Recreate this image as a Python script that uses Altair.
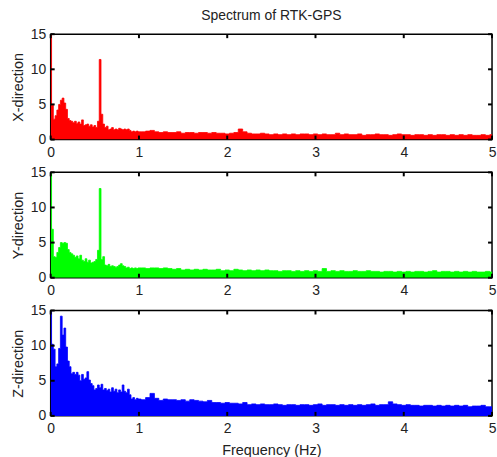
import altair as alt
import pandas as pd

# frequency grid (Hz): fine 0-1, coarser 1.05-5
freq_low = [round(0.02 * i, 2) for i in range(51)]
freq_high = [round(1.0 + 0.05 * i, 2) for i in range(1, 81)]
freqs = freq_low + freq_high

x_low = [15.0, 4.9, 2.9, 3.4, 4.2, 5.0, 5.6, 5.9, 5.2, 4.3,
         3.0, 2.7, 2.6, 2.4, 2.6, 2.3, 2.5, 2.2, 2.8, 2.0,
         2.1, 2.2, 1.9, 2.1, 1.8, 2.0, 1.7, 2.6, 11.4, 3.6,
         2.2, 1.7, 1.9, 1.4, 1.5, 1.7, 1.4, 1.5, 1.4, 1.6,
         1.5, 1.4, 1.5, 1.4, 1.5, 1.3, 1.1, 1.2, 1.1, 1.2, 1.1]
x_high = [1.1, 1.2, 1.3, 1.1, 1.0, 1.1, 1.0, 1.0, 1.1, 0.9,
          1.0, 1.0, 0.9, 1.0, 1.0, 0.9, 1.0, 0.9, 0.9, 0.8,
          0.9, 1.0, 1.5, 1.1, 0.9, 0.8, 0.8, 0.9, 0.8, 0.7,
          0.8, 0.7, 0.8, 0.7, 0.8, 0.7, 0.8, 0.8, 0.7, 0.8,
          0.7, 0.8, 0.7, 0.7, 0.9, 0.7, 0.8, 0.7, 0.7, 0.8,
          0.6, 0.7, 0.7, 0.8, 0.7, 0.7, 0.6, 0.7, 0.8, 0.7,
          0.7, 0.6, 0.7, 0.7, 0.6, 0.7, 0.6, 0.7, 0.7, 0.6,
          0.7, 0.6, 0.7, 0.6, 0.7, 0.6, 0.6, 0.7, 0.6, 0.7]

y_low = [15.0, 6.9, 3.0, 2.9, 3.6, 4.3, 5.0, 4.9, 5.0, 4.9,
         4.0, 3.6, 3.4, 3.2, 2.9, 3.1, 2.7, 3.2, 2.5, 2.3,
         2.7, 2.2, 2.5, 2.1, 2.2, 2.3, 2.6, 3.9, 12.7, 2.6,
         3.0, 1.8, 1.7, 1.9, 1.6, 1.7, 1.6, 1.5, 1.6, 1.8,
         2.0, 1.7, 1.6, 1.4, 1.5, 1.3, 1.4, 1.3, 1.4, 1.3, 1.4]
y_high = [1.4, 1.3, 1.4, 1.4, 1.3, 1.4, 1.3, 1.2, 1.3, 1.1,
          1.2, 1.1, 1.2, 1.1, 1.2, 1.1, 1.1, 1.2, 1.0, 1.1,
          1.0, 1.2, 1.1, 1.0, 1.1, 1.0, 1.1, 1.0, 1.1, 1.0,
          1.0, 0.9, 1.0, 1.0, 0.9, 1.0, 0.9, 1.0, 0.9, 1.0,
          0.9, 1.3, 0.9, 1.0, 0.9, 1.0, 0.9, 0.9, 1.0, 0.9,
          0.9, 1.0, 0.9, 0.9, 0.8, 0.9, 0.9, 0.8, 0.9, 0.8,
          0.9, 0.8, 0.9, 0.9, 0.8, 0.9, 1.0, 0.8, 0.9, 0.9,
          0.8, 0.9, 0.8, 0.9, 0.8, 0.9, 0.8, 0.8, 0.9, 0.8]

z_low = [15.0, 10.2, 9.5, 7.0, 7.4, 9.6, 14.2, 11.5, 12.5, 9.8,
         7.8, 7.0, 6.0, 6.2, 5.9, 6.2, 5.8, 5.0, 5.9, 5.2,
         5.4, 6.3, 5.1, 4.6, 4.3, 3.7, 3.9, 4.4, 4.0, 4.5,
         3.7, 3.9, 3.6, 3.8, 3.4, 4.0, 3.5, 3.8, 3.3, 3.7,
         3.4, 4.4, 3.5, 3.3, 3.8, 3.0, 2.4, 2.6, 2.3, 2.5, 2.4]
z_high = [2.3, 2.6, 3.2, 2.5, 2.2, 2.4, 2.3, 2.3, 2.2, 2.3,
          2.1, 2.3, 2.2, 2.1, 2.0, 2.2, 1.9, 1.9, 1.8, 1.9,
          1.8, 1.8, 1.7, 1.9, 1.6, 1.7, 1.6, 1.7, 1.6, 1.6,
          1.7, 1.6, 1.5, 1.6, 1.6, 1.5, 1.6, 1.6, 1.5, 1.6,
          1.7, 1.5, 1.6, 1.6, 1.5, 1.6, 1.5, 1.6, 1.5, 1.6,
          1.5, 1.6, 1.7, 1.5, 1.6, 1.6, 2.0, 1.7, 1.6, 1.5,
          1.6, 1.5, 1.5, 1.4, 1.5, 1.5, 1.4, 1.5, 1.4, 1.5,
          1.4, 1.5, 1.4, 1.5, 1.3, 1.4, 1.4, 1.5, 1.3, 1.3]

x_ticks = [0, 1, 2, 3, 4, 5]
y_ticks = [0, 5, 10, 15]

FONT = "Liberation Sans"
W, H = 444, 106


def panel(vals, color, ytitle, xtitle):
    df = pd.DataFrame({"f": freqs, "v": vals})
    xs = alt.Scale(domain=[0, 5], nice=False, zero=False)
    ys = alt.Scale(domain=[0, 15], nice=False)
    xax = alt.Axis(values=x_ticks, format="d", title=xtitle, grid=False,
                   domain=False, ticks=False, tickSize=0, labelPadding=6,
                   labelFontSize=14, labelFont=FONT, labelColor="#222",
                   labelOverlap=False, labelFlush=False,
                   titleFont=FONT, titleFontSize=14.5, titleFontWeight="normal",
                   titleColor="#222", titlePadding=8)
    yax = alt.Axis(values=y_ticks, format="d", title=ytitle, grid=False,
                   domain=False, ticks=False, tickSize=0, labelPadding=5,
                   labelFontSize=14, labelFont=FONT, labelColor="#222",
                   labelOverlap=False, labelFlush=False,
                   titleFont=FONT, titleFontSize=14.5, titleFontWeight="normal",
                   titleColor="#222", titlePadding=5)
    area = alt.Chart(df).mark_area(color=color, clip=True, opacity=1,
                                   interpolate="step",
                                   line={"color": color, "strokeWidth": 0.8}).encode(
        x=alt.X("f:Q", scale=xs, axis=xax),
        y=alt.Y("v:Q", scale=ys, axis=yax),
    )
    xt = pd.DataFrame({"t": x_ticks})
    yt = pd.DataFrame({"t": y_ticks})
    bt = alt.Chart(xt).mark_rule(color="black", strokeWidth=2).encode(
        x=alt.X("t:Q", scale=xs, axis=xax), y=alt.value(H), y2=alt.value(H - 4))
    tt = alt.Chart(xt).mark_rule(color="black", strokeWidth=2).encode(
        x=alt.X("t:Q", scale=xs, axis=xax), y=alt.value(0), y2=alt.value(4))
    lt = alt.Chart(yt).mark_rule(color="black", strokeWidth=2).encode(
        y=alt.Y("t:Q", scale=ys, axis=yax), x=alt.value(0), x2=alt.value(4))
    rt = alt.Chart(yt).mark_rule(color="black", strokeWidth=2).encode(
        y=alt.Y("t:Q", scale=ys, axis=yax), x=alt.value(W), x2=alt.value(W - 4))
    return alt.layer(area, bt, tt, lt, rt).properties(width=W, height=H)


chart = alt.vconcat(
    panel(x_low + x_high, "#ff0000", "X-direction", None),
    panel(y_low + y_high, "#00ff00", "Y-direction", None),
    panel(z_low + z_high, "#0000ff", "Z-direction", "Frequency (Hz)"),
    spacing=4,
).properties(
    title=alt.TitleParams("Spectrum of RTK-GPS", font=FONT, fontSize=14,
                          fontWeight="normal", color="#222", anchor="middle",
                          frame="group", offset=4),
    padding={"left": 9, "top": 7, "right": 0, "bottom": 0},
    background="white",
).configure_view(stroke="black", strokeWidth=1.5)

chart.save("out.html", embed_options={"renderer": "svg", "actions": False})
